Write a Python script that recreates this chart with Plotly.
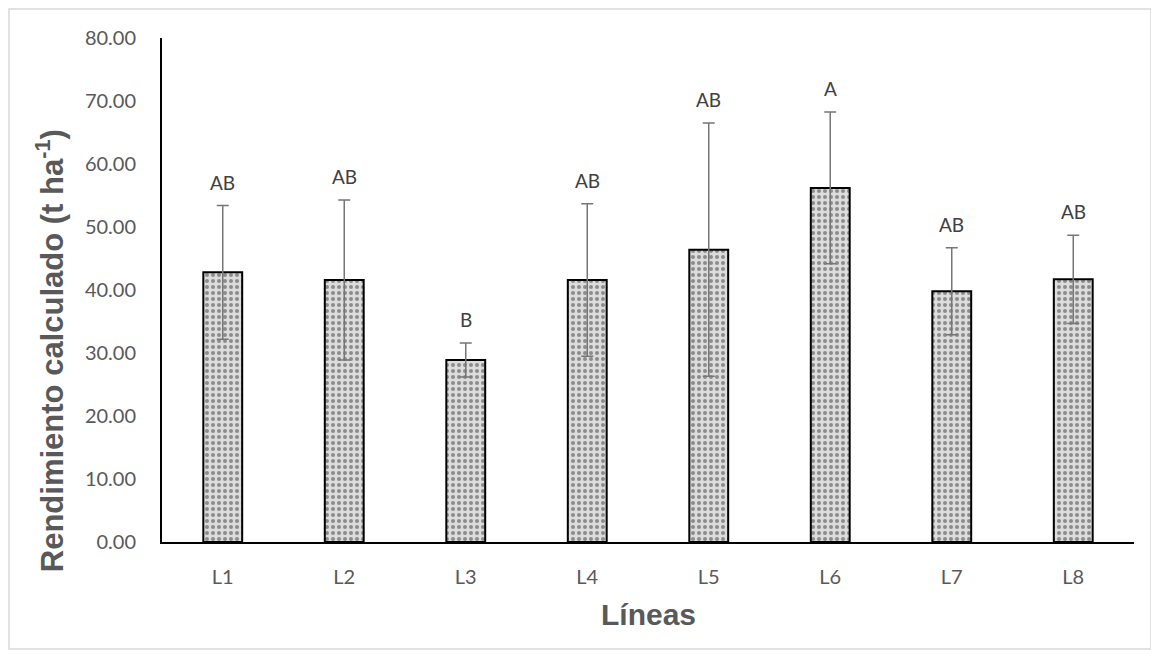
import plotly.graph_objects as go

categories = ["L1", "L2", "L3", "L4", "L5", "L6", "L7", "L8"]
means = [42.8, 41.6, 28.9, 41.6, 46.4, 56.2, 39.8, 41.7]
errors = [10.6, 12.7, 2.7, 12.1, 20.1, 12.05, 6.9, 7.0]
letters = ["AB", "AB", "B", "AB", "AB", "A", "AB", "AB"]
y_ticks = [0, 10, 20, 30, 40, 50, 60, 70, 80]

grey_txt = "#595959"

fig = go.Figure()
fig.add_trace(go.Bar(
    x=categories, y=means,
    marker=dict(
        color="#d9d9d9",
        line=dict(color="#000000", width=2),
        pattern=dict(shape=".", fgcolor="#3a3a3a", bgcolor="#dcdcdc", size=6, solidity=0.35),
    ),
    error_y=dict(type="data", array=errors, visible=True, color="#767676", thickness=1.5, width=6),
    showlegend=False,
))

for c, m, e, t in zip(categories, means, errors, letters):
    fig.add_annotation(x=c, y=m + e, text=t, showarrow=False, yanchor="bottom", yshift=10,
                       font=dict(family="Lato", size=19, color="#404040"))

fig.add_annotation(x=-0.115, y=0.379, xref="paper", yref="paper", textangle=-90,
                   text="Rendimiento calculado (t ha<sup>-1</sup>)", showarrow=False,
                   xanchor="center", yanchor="middle",
                   font=dict(family="Liberation Sans, Arial", size=31, color=grey_txt, weight="bold"))
fig.add_annotation(x=0.5, y=-0.143, xref="paper", yref="paper", text="Líneas", showarrow=False,
                   xanchor="center", yanchor="middle",
                   font=dict(family="Liberation Sans, Arial", size=30, color=grey_txt, weight="bold"))

fig.add_shape(type="rect", xref="paper", yref="paper", x0=-0.1574, x1=1.0175, y0=-0.2123, y1=1.0575,
              line=dict(color="#d9d9d9", width=1.5), fillcolor="rgba(0,0,0,0)")

fig.update_layout(
    width=1151, height=649,
    margin=dict(l=154, r=25, t=30, b=115),
    paper_bgcolor="white", plot_bgcolor="white",
    bargap=0.68,
    font=dict(family="Lato", size=19, color=grey_txt),
)
fig.update_yaxes(range=[0, 80], tickvals=y_ticks, tickformat=".2f", showgrid=False, zeroline=False,
                 showline=True, linecolor="#000000", linewidth=2,
                 ticks="outside", ticklen=20, tickcolor="rgba(0,0,0,0)",
                 tickfont=dict(family="Lato", size=20, color=grey_txt))
fig.update_xaxes(showgrid=False, showline=True, linecolor="#000000", linewidth=2,
                 ticks="outside", ticklen=16, tickcolor="rgba(0,0,0,0)",
                 tickfont=dict(family="Lato", size=20, color=grey_txt))

fig.write_html("out.html")
